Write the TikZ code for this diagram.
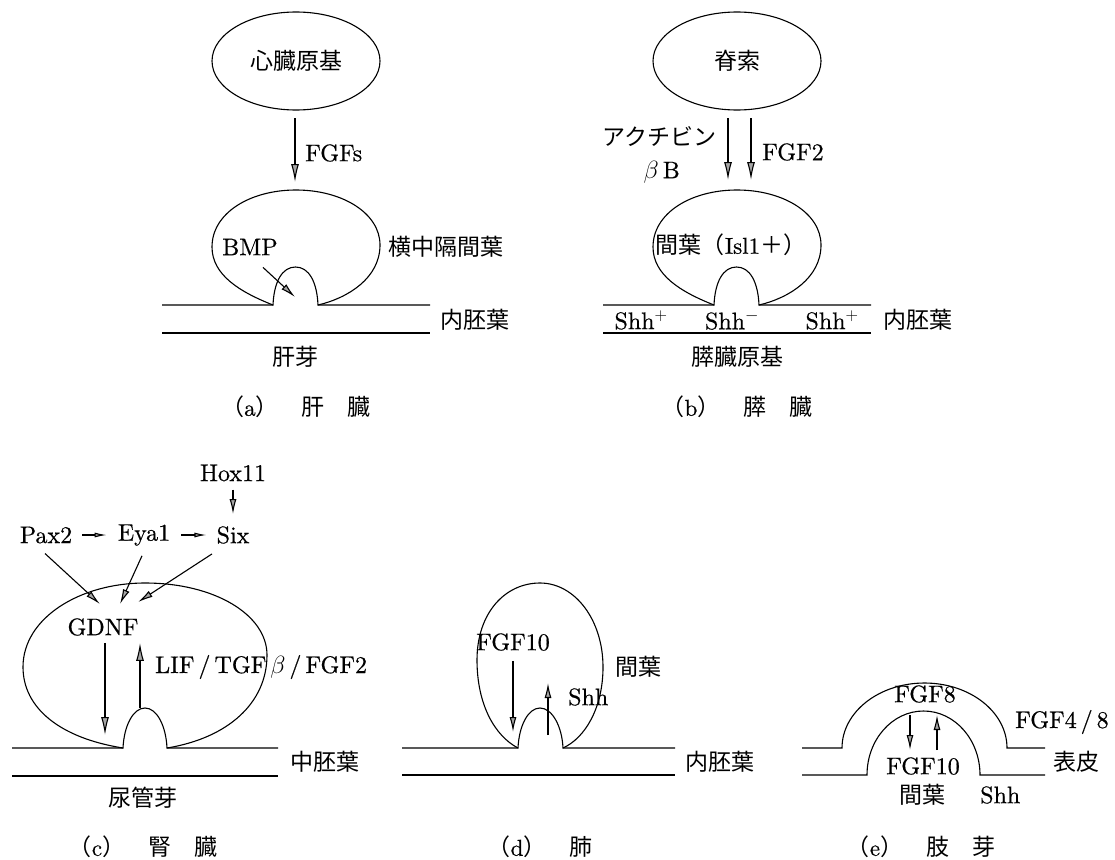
\documentclass[tikz,border=0pt]{standalone}
\usepackage{fontspec}
\setmainfont{lmroman10-regular.otf}[ItalicFont=lmroman10-italic.otf,BoldFont=lmroman10-bold.otf,FakeBold=0.5]
\newfontfamily\jp{Noto Sans CJK JP}
\usetikzlibrary{arrows.meta,shapes.geometric,calc}
\begin{document}
\begin{tikzpicture}[x=1pt,y=-1pt,
  every node/.style={font=\fontsize{24}{28}\selectfont, inner sep=0pt},
  jt/.style={font=\fontsize{23}{28}\selectfont\jp},
  ln/.style={line width=1.1pt},
  arr/.style={line width=1.1pt,-{Latex[length=18pt,width=8pt,fill=gray!70]}},
  marr/.style={line width=1.1pt,-{Latex[length=15pt,width=7pt,fill=gray!70]}},
  sarr/.style={line width=1.1pt,-{Latex[length=12pt,width=5pt,fill=gray!70]}},
  oval/.style={draw,ellipse,line width=1.1pt,minimum width=168pt,minimum height=98pt}]
\useasboundingbox (0,0) rectangle (1115,859);

% ---------- (a) liver ----------
\node[oval,jt] (heart) at (296,61) {心臓原基};
\coordinate (fa1) at (295,118);
\coordinate (fa2) at (295,182);
\draw[arr] (fa1) -- (fa2);
\node[anchor=west] (fgfs) at (305,153) {FGFs};
\draw[ln] (162,305) -- (273,305) .. controls (274,282) and (282,267) .. (295.5,267) .. controls (309,267) and (317,282) .. (318,305) -- (430,305);
\draw[ln] (273,305) .. controls (240,292) and (212,275) .. (212,247) .. controls (212,213) and (250,190) .. (296,190) .. controls (342,190) and (380,213) .. (380,245) .. controls (380,278) and (348,298) .. (318,305);
\draw[ln] (162,333) -- (430,333);
\node (bmp) at (250,247) {BMP};
\coordinate (abud) at (295,297);
\draw[marr] ($(bmp.south)+(13,12)$) -- (abud);
\node[jt,anchor=west] (stm) at (388,247) {横中隔間葉};
\node[jt,anchor=west] (endoa) at (440,320) {内胚葉};
\node[jt] (liverbud) at (295,357) {肝芽};
\node[jt] (capa) at (296,407) {（{\rmfamily a}）　肝　臓};

% ---------- (b) pancreas ----------
\node[oval,jt] (noto) at (737,61) {脊索};
\coordinate (fb1) at (728,118);
\coordinate (fb2) at (728,180);
\coordinate (fb3) at (751,118);
\coordinate (fb4) at (751,180);
\draw[arr] (fb1) -- (fb2);
\draw[arr] (fb3) -- (fb4);
\node[jt,anchor=east] (act) at (717,137) {アクチビン};
\node[anchor=east] (bb) at (680,172) {$\beta$\,B};
\node[anchor=west] (fgf2) at (762,152) {FGF2};
\begin{scope}[shift={(441,0)}]
\draw[ln] (162,305) -- (273,305) .. controls (274,282) and (282,267) .. (295.5,267) .. controls (309,267) and (317,282) .. (318,305) -- (430,305);
\draw[ln] (273,305) .. controls (240,292) and (212,275) .. (212,247) .. controls (212,213) and (250,190) .. (296,190) .. controls (342,190) and (380,213) .. (380,245) .. controls (380,278) and (348,298) .. (318,305);
\draw[ln] (162,333) -- (430,333);
\end{scope}
\node[jt] (mesb) at (731,245) {間葉（{\rmfamily Isl1}＋）};
\node (s1) at (641,320) {Shh$^+$};
\node (s2) at (732,320) {Shh$^-$};
\node (s3) at (832,320) {Shh$^+$};
\node[jt,anchor=west] (endob) at (883,320) {内胚葉};
\node[jt] (panc) at (737,357) {膵臓原基};
\node[jt] (capb) at (737,407) {（{\rmfamily b}）　膵　臓};

% ---------- (c) kidney ----------
\node (hox) at (233,473) {Hox11};
\node (pax) at (46,535) {Pax2};
\node (eya) at (144,535) {Eya1};
\node (six) at (233,535) {Six};
\node (gdnf) at (103,627) {GDNF};
\draw[marr,shorten <=8pt,shorten >=12pt] (hox.south) -- (six.north);
\draw[sarr,shorten <=10pt,shorten >=11pt] (pax.east) -- (eya.west);
\draw[sarr,shorten <=11pt,shorten >=10pt] (eya.east) -- (six.west);
\draw[marr] ($(pax.south)+(-1,10)$) -- ($(gdnf.north)+(-3,-14)$);
\draw[marr] ($(eya.south)+(-2,10)$) -- ($(gdnf.north)+(17,-14)$);
\draw[marr] ($(six.south)+(-21,10)$) -- ($(gdnf.north)+(35,-16)$);
\draw[ln] (12,748) -- (123,748) .. controls (124,726) and (133,708) .. (145,708) .. controls (157,708) and (166,726) .. (167,748) -- (278,748);
\draw[ln] (123,748) .. controls (60,738) and (23,708) .. (23,667) .. controls (23,618) and (80,583) .. (145,583) .. controls (215,583) and (267,615) .. (267,655) .. controls (267,703) and (228,738) .. (167,748);
\draw[ln] (12,776) -- (278,776);
\coordinate (cdown) at (105,735);
\coordinate (cbud) at (140,708);
\draw[arr] ($(gdnf.south)+(2,7)$) -- (cdown);
\draw[arr] (cbud) -- ($(gdnf.south)+(37,7)$);
\node[anchor=west] (lif) at (155,667) {LIF\,/\,TGF\,$\beta$\,/\,FGF2};
\node[jt,anchor=west] (meso) at (290,762) {中胚葉};
\node[jt] (ureter) at (143,798) {尿管芽};
\node[jt] (capc) at (143,847) {（{\rmfamily c}）　腎　臓};

% ---------- (d) lung ----------
\draw[ln] (402,748) -- (518,748) .. controls (519,726) and (528,708) .. (540,708) .. controls (552,708) and (562,726) .. (563,748) -- (675,748);
\draw[ln] (518,748) .. controls (495,736) and (477,705) .. (477,660) .. controls (477,613) and (505,583) .. (540,583) .. controls (575,583) and (603,620) .. (603,667) .. controls (603,708) and (585,738) .. (563,748);
\draw[ln] (402,775) -- (675,775);
\node (fgf10d) at (513,642) {FGF10};
\coordinate (ddown) at (513,732);
\coordinate (dup) at (548,735);
\draw[marr] ($(fgf10d.south)+(0,10)$) -- (ddown);
\node[anchor=west] (shhd) at (568,697) {Shh};
\draw[marr] (dup) -- ($(shhd.west)+(-20,-14)$);
\node[jt,anchor=west] (mesd) at (615,667) {間葉};
\node[jt,anchor=west] (endod) at (685,762) {内胚葉};
\node[jt] (capd) at (540,847) {（{\rmfamily d}）　肺};

% ---------- (e) limb bud ----------
\draw[ln] (802,748) -- (842,748) arc[start angle=180,end angle=0,x radius=82.5pt,y radius=65pt] -- (1045,748);
\draw[ln] (802,775) -- (867,775) arc[start angle=180,end angle=0,x radius=56.5pt,y radius=64pt] -- (1045,775);
\node (fgf8) at (925,694) {FGF8};
\node (fgf10e) at (923,766) {FGF10};
\coordinate (e1) at (910,715);
\coordinate (e2) at (910,750);
\coordinate (e3) at (937,750);
\coordinate (e4) at (937,715);
\draw[marr] (e1) -- (e2);
\draw[marr] (e3) -- (e4);
\node[jt] (mese) at (922,795) {間葉};
\node[anchor=west] (shhe) at (980,795) {Shh};
\node[anchor=west] (fgf48) at (1015,722) {FGF4\,/\,8};
\node[jt,anchor=west] (epi) at (1053,762) {表皮};
\node[jt] (cape) at (921,847) {（{\rmfamily e}）　肢　芽};
\end{tikzpicture}
\end{document}
